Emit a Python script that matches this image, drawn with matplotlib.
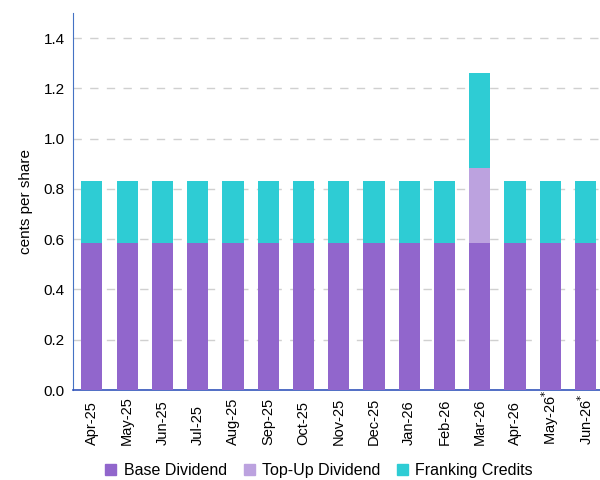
import matplotlib
matplotlib.use("Agg")
import matplotlib.pyplot as plt
import matplotlib.transforms as mtransforms
from matplotlib.patches import Patch
import numpy as np

plt.rcParams['font.family'] = ['Liberation Sans', 'DejaVu Sans']

months = ["Apr-25", "May-25", "Jun-25", "Jul-25", "Aug-25", "Sep-25", "Oct-25",
          "Nov-25", "Dec-25", "Jan-26", "Feb-26", "Mar-26", "Apr-26", "May-26$^{*}$", "Jun-26$^{*}$"]
base = [0.5833] * 15
topup = [0, 0, 0, 0, 0, 0, 0, 0, 0, 0, 0, 0.30, 0, 0, 0]
franking = [0.25] * 11 + [0.3786] + [0.25] * 3

c_base = "#9166CC"
c_top = "#BCA2DF"
c_frank = "#2ECCD4"

fig = plt.figure(figsize=(6, 4.8), dpi=100)
ax = fig.add_axes([0.122, 0.1875, 0.878, 0.7855])
x = np.arange(len(months))
w = 0.6
base_a = np.array(base)
top_a = np.array(topup)
fr_a = np.array(franking)
ax.bar(x, base_a, w, color=c_base, zorder=3)
ax.bar(x, top_a, w, bottom=base_a, color=c_top, zorder=3)
ax.bar(x, fr_a, w, bottom=base_a + top_a, color=c_frank, zorder=3)

ax.set_ylim(0, 1.5)
ax.set_xlim(-0.53, 14.41)
yt = np.arange(0, 1.41, 0.2)
ax.set_yticks(yt)
ax.set_yticklabels([f"{v:.1f}" for v in yt], fontsize=11)
ax.set_xticks(x)
ax.set_xticklabels([])
trans = mtransforms.blended_transform_factory(ax.transData, fig.transFigure)
for xi, lab in zip(x, months):
    ax.text(xi, 35 / 480, lab, rotation=90, ha="center", va="bottom",
            fontsize=10.5, transform=trans, clip_on=False)
ax.tick_params(length=0, pad=6)
ax.yaxis.grid(True, color="#D0D0D0", linestyle=(0, (6, 6)), linewidth=1, zorder=0)
for s in ["top", "right"]:
    ax.spines[s].set_visible(False)
ax.spines["left"].set_color("#4472C4")
ax.spines["bottom"].set_color("#3355BB")
ax.spines["bottom"].set_linewidth(1.2)
ax.set_ylabel("cents per share", fontsize=11, labelpad=8)

handles = [Patch(color=c_base, label="Base Dividend"),
           Patch(color=c_top, label="Top-Up Dividend"),
           Patch(color=c_frank, label="Franking Credits")]
fig.legend(handles=handles, loc="center", bbox_to_anchor=(0.532, 0.019), ncol=3,
           frameon=False, fontsize=11.5, handlelength=0.7, handleheight=0.7,
           handletextpad=0.45, columnspacing=1.05)
fig.savefig("out.png", dpi=100)
